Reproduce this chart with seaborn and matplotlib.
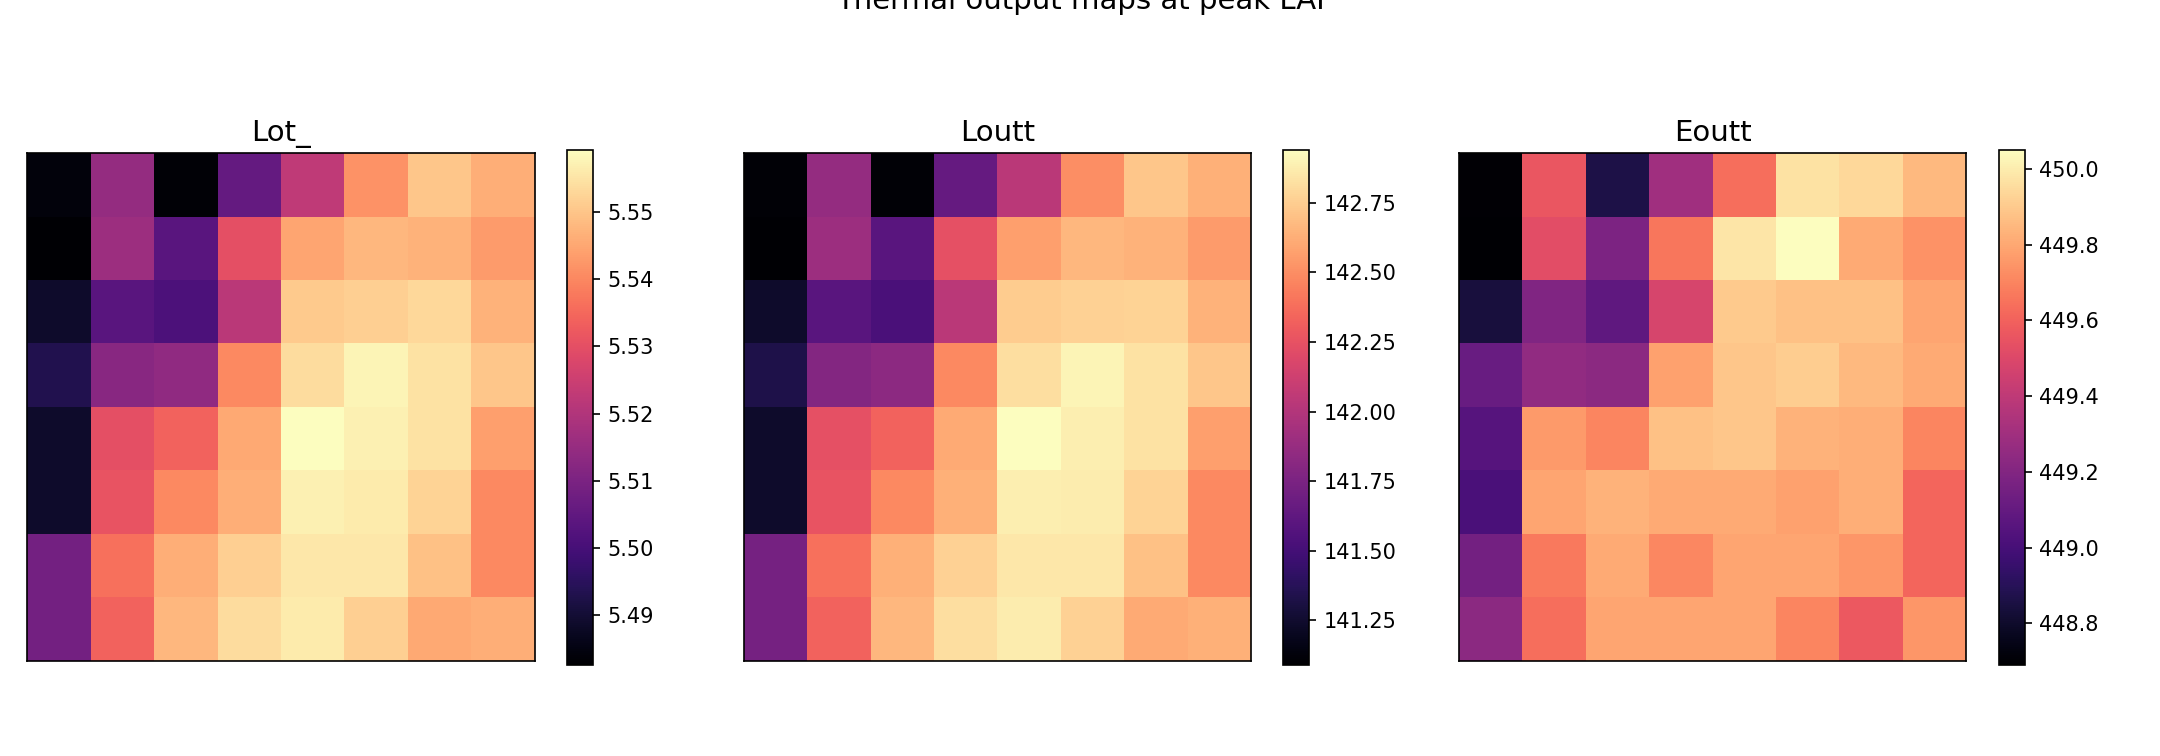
import matplotlib
matplotlib.use('Agg')
import matplotlib.pyplot as plt
import seaborn as sns
import numpy as np

# --- Data (8x8 grids, rows top to bottom) ---
lot_ = [
    [5.4841, 5.5148, 5.4834, 5.5056, 5.5224, 5.5416, 5.5500, 5.5462],
    [5.4826, 5.5163, 5.5033, 5.5301, 5.5446, 5.5477, 5.5469, 5.5431],
    [5.4887, 5.5033, 5.5010, 5.5217, 5.5508, 5.5515, 5.5531, 5.5469],
    [5.4933, 5.5125, 5.5140, 5.5401, 5.5538, 5.5577, 5.5546, 5.5500],
    [5.4887, 5.5301, 5.5339, 5.5454, 5.5592, 5.5569, 5.5546, 5.5439],
    [5.4887, 5.5309, 5.5401, 5.5462, 5.5569, 5.5561, 5.5523, 5.5401],
    [5.5086, 5.5362, 5.5462, 5.5515, 5.5554, 5.5554, 5.5492, 5.5401],
    [5.5086, 5.5339, 5.5477, 5.5538, 5.5561, 5.5515, 5.5454, 5.5462],
]

loutt = [
    [141.11, 141.87, 141.11, 141.65, 142.03, 142.50, 142.72, 142.63],
    [141.09, 141.90, 141.59, 142.24, 142.57, 142.66, 142.64, 142.55],
    [141.24, 141.59, 141.53, 142.03, 142.74, 142.76, 142.77, 142.64],
    [141.33, 141.79, 141.83, 142.48, 142.81, 142.90, 142.83, 142.72],
    [141.24, 142.24, 142.33, 142.61, 142.94, 142.88, 142.83, 142.57],
    [141.24, 142.26, 142.48, 142.63, 142.88, 142.87, 142.77, 142.48],
    [141.72, 142.39, 142.63, 142.76, 142.85, 142.85, 142.70, 142.48],
    [141.72, 142.33, 142.66, 142.81, 142.87, 142.76, 142.61, 142.63],
]

eoutt = [
    [448.70, 449.56, 448.86, 449.30, 449.64, 449.97, 449.94, 449.85],
    [448.69, 449.52, 449.18, 449.66, 449.98, 450.05, 449.81, 449.74],
    [448.84, 449.19, 449.08, 449.48, 449.90, 449.87, 449.87, 449.79],
    [449.11, 449.25, 449.23, 449.78, 449.89, 449.91, 449.85, 449.81],
    [449.05, 449.76, 449.70, 449.87, 449.89, 449.83, 449.82, 449.70],
    [449.01, 449.79, 449.83, 449.81, 449.81, 449.78, 449.82, 449.61],
    [449.15, 449.67, 449.81, 449.71, 449.79, 449.79, 449.75, 449.61],
    [449.23, 449.64, 449.79, 449.79, 449.79, 449.70, 449.57, 449.75],
]

titles = ['Lot_', 'Loutt', 'Eoutt']
grids = [lot_, loutt, eoutt]

# --- Layout (figure fractions) ---
ax_left = [0.0127, 0.3444, 0.6755]
ax_w = 0.2348
cb_off = 0.2498
cb_w = 0.0120

fig = plt.figure(figsize=(14.4, 5.04), dpi=150)

for i in range(3):
    ax = fig.add_axes([ax_left[i], 0.1257, ax_w, 0.6719])
    cax = fig.add_axes([ax_left[i] + cb_off, 0.1204, cb_w, 0.6812])
    sns.heatmap(np.array(grids[i]), ax=ax, cbar_ax=cax, cmap='magma',
                xticklabels=False, yticklabels=False)
    # heatmap drops the frame; the reference keeps it
    for s in ax.spines.values():
        s.set_visible(True)
        s.set_linewidth(0.8)
        s.set_color('black')
    cbar = ax.collections[0].colorbar
    cbar.outline.set_linewidth(0.8)
    cbar.outline.set_edgecolor('black')
    cbar.ax.tick_params(labelsize=10)
    ax.set_title(titles[i], fontsize=14)

fig.suptitle('Thermal output maps at peak LAI', fontsize=14, y=1.017)

plt.savefig('out.png', dpi=150)
plt.close()
